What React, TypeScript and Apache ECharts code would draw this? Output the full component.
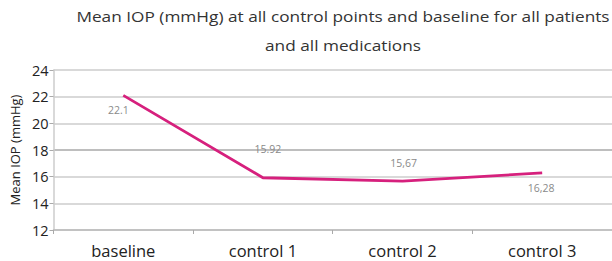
import React, { useEffect, useRef } from "react";
import * as echarts from "echarts";

const categories = ["baseline", "control 1", "control 2", "control 3"];
const values = [22.1, 15.92, 15.67, 16.28];
const labelTexts = ["22.1", "15.92", "15,67", "16,28"];
const titleLines = [
  "Mean IOP (mmHg) at all control points and baseline for all patients",
  "and all medications",
];

const FONT = "'Open Sans', 'Liberation Sans', sans-serif";

export default function App() {
  const ref = useRef<HTMLDivElement>(null);
  useEffect(() => {
    if (!ref.current) return;
    const chart = echarts.init(ref.current, null, { renderer: "svg" });
    const labelCfg = [
      { position: "bottom", offset: [-5, 3] },
      { position: "top", offset: [5, -17] },
      { position: "top", offset: [1, -7] },
      { position: "bottom", offset: [-1, 4] },
    ];
    chart.setOption({
      animation: false,
      backgroundColor: "#ffffff",
      textStyle: { fontFamily: FONT },
      graphic: [
        {
          type: "text",
          x: 343,
          y: 16,
          scaleX: 1.15,
          style: {
            text: titleLines[0],
            textAlign: "center",
            textVerticalAlign: "middle",
            fontFamily: FONT,
            fontSize: 15,
            fill: "#333333",
          },
        },
        {
          type: "text",
          x: 343,
          y: 45,
          scaleX: 1.15,
          style: {
            text: titleLines[1],
            textAlign: "center",
            textVerticalAlign: "middle",
            fontFamily: FONT,
            fontSize: 15,
            fill: "#333333",
          },
        },
      ],
      grid: { left: 53, right: -4, top: 70, bottom: 31 },
      xAxis: {
        type: "category",
        data: categories,
        boundaryGap: true,
        axisLine: { lineStyle: { color: "#bbbbbb", width: 1.5 } },
        axisTick: { show: true, length: 4, lineStyle: { color: "#aaaaaa" } },
        axisLabel: {
          color: "#222222",
          fontSize: 16.5,
          fontFamily: FONT,
          margin: 12,
        },
      },
      yAxis: {
        type: "value",
        min: 12,
        max: 24,
        interval: 2,
        name: "Mean IOP (mmHg)",
        nameLocation: "middle",
        nameGap: 32,
        nameTextStyle: { color: "#222222", fontSize: 13, fontFamily: FONT },
        axisLine: { show: true, lineStyle: { color: "#cccccc", width: 1.5 } },
        axisTick: { show: true, length: 4, lineStyle: { color: "#aaaaaa" } },
        axisLabel: { color: "#222222", fontSize: 14.5, fontFamily: FONT, margin: 5 },
        splitLine: {
          lineStyle: {
            color: ["#cccccc", "#cccccc", "#cccccc", "#a8a8a8", "#cccccc", "#cccccc", "#cccccc"],
            width: 1.5,
          },
        },
      },
      series: [
        {
          type: "line",
          data: values.map((v, i) => ({
            value: v,
            label: {
              show: true,
              position: labelCfg[i].position,
              offset: labelCfg[i].offset,
              formatter: () => labelTexts[i],
              color: "#8a8a8a",
              fontSize: 10.5,
              fontFamily: FONT,
            },
          })),
          symbol: "circle",
          symbolSize: 2,
          showSymbol: true,
          itemStyle: { color: "rgba(214,32,125,0)" },
          lineStyle: { color: "#d6207d", width: 2.8 },
        },
      ],
    });
    return () => chart.dispose();
  }, []);
  return (
    <div
      ref={ref}
      style={{ position: "fixed", left: 0, top: 0, width: 612, height: 261 }}
    />
  );
}
